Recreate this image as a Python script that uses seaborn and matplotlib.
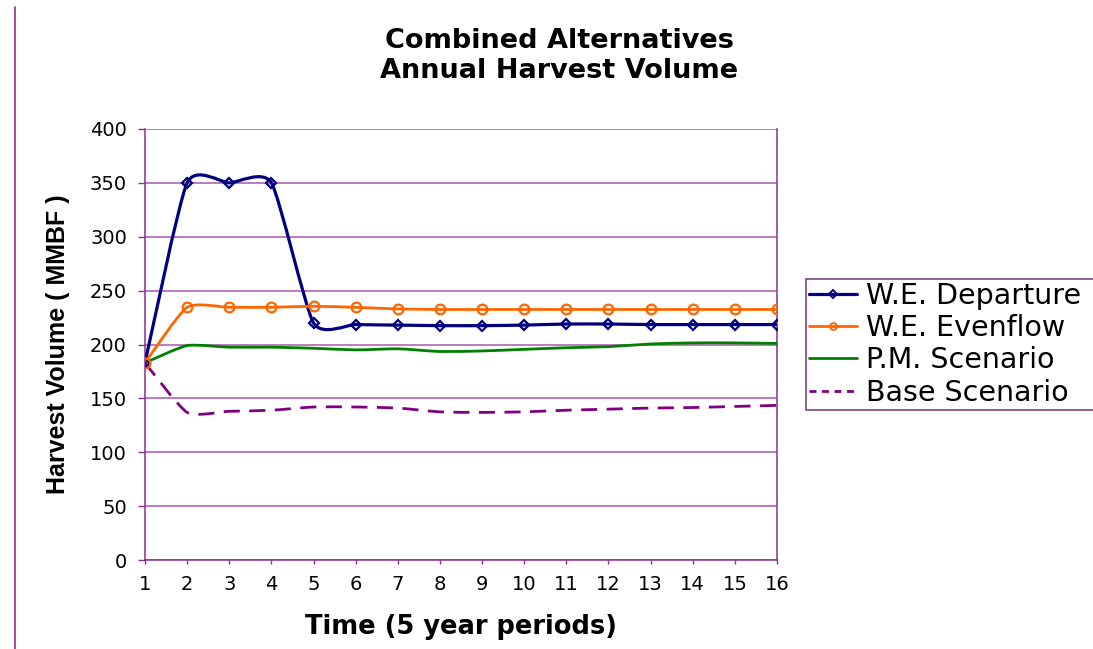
import numpy as np
import matplotlib
matplotlib.use('Agg')
import matplotlib.pyplot as plt
from matplotlib.path import Path
from matplotlib.patches import PathPatch
from matplotlib.lines import Line2D
import seaborn as sns

sns.set_style('white')
plt.rcParams['font.family'] = ['DejaVu Sans']
plt.rcParams['text.color'] = 'black'
plt.rcParams['axes.labelcolor'] = 'black'

# values
periods = list(range(1, 17))
we_departure = [183, 350, 350, 350, 220, 218.5, 218, 217.5, 217.5, 218, 219, 219, 218.5, 218.5, 218.5, 218.5]
we_evenflow = [183, 234.5, 234.5, 234.5, 235.5, 234.5, 233, 232.5, 232.5, 232.5, 232.5, 232.5, 232.5, 232.5, 232.5, 232.5]
pm_scenario = [183, 199, 197.5, 197.5, 196.5, 195, 196, 193.5, 194, 195.5, 197, 198, 200.5, 201.5, 201.5, 201]
base_scenario = [183, 137, 138, 139, 142, 142, 141, 137.5, 137, 137.5, 139, 140, 141, 141.5, 142.5, 143.5]
series_names = ['W.E. Departure', 'W.E. Evenflow', 'P.M. Scenario', 'Base Scenario']

navy = '#000080'
orange = '#FF6600'
green = '#008000'
purple = '#800080'
axis_col = '#8E2C92'
grid_col = '#A957AD'


# excel style smoothed line: cubic bezier through the points
def smooth_path(xs, ys, k=0.1):
    pts = np.column_stack([xs, ys]).astype(float)
    n = len(pts)
    verts = [pts[0]]
    codes = [Path.MOVETO]
    for i in range(n - 1):
        p0 = pts[i - 1] if i > 0 else pts[i]
        p1 = pts[i]
        p2 = pts[i + 1]
        p3 = pts[i + 2] if i + 2 < n else pts[i + 1]
        verts += [p1 + (p2 - p0) * k, p2 - (p3 - p1) * k, p2]
        codes += [Path.CURVE4] * 3
    return Path(verts, codes)


fig = plt.figure(figsize=(10.93, 6.49), dpi=100)
ax = fig.add_axes([145 / 1093, 1 - 560 / 649, 632 / 1093, 431 / 649])

styles = [
    (we_departure, navy, 2.3, '-', 'D', 5.5),
    (we_evenflow, orange, 2.0, '-', 'o', 7),
    (pm_scenario, green, 2.0, '-', None, 0),
    (base_scenario, purple, 2.0, (0, (5.8, 3.4)), None, 0),
]

handles = []
for (vals, col, lw, ls, mk, ms), name in zip(styles, series_names):
    ax.add_patch(PathPatch(smooth_path(periods, vals), fill=False, edgecolor=col,
                           lw=lw, linestyle=ls, zorder=3, capstyle='butt'))
    if mk:
        sns.lineplot(x=periods, y=vals, ax=ax, marker=mk, linestyle='', markersize=ms,
                     mfc='none', mec=col, mew=1.6, color=col, legend=False, zorder=4)
    handles.append(Line2D([], [], color=col, lw=lw, linestyle=ls if ls == '-' else (0, (2.5, 2)),
                          marker=mk, markersize=ms * 0.7, mfc='none', mec=col, mew=1.4))

ax.set_xlim(1, 16)
ax.set_ylim(0, 400)
ax.set_xticks(periods)
ax.set_yticks(range(0, 401, 50))
ax.grid(axis='y', color=grid_col, lw=1.1)
ax.set_axisbelow(True)
for side in ['left', 'bottom', 'right']:
    ax.spines[side].set_color(axis_col)
    ax.spines[side].set_linewidth(1.1)
ax.spines['top'].set_visible(False)
ax.tick_params(axis='y', direction='out', length=5, width=1, color=axis_col, pad=8,
               labelsize=14, labelcolor='black', left=True)
ax.tick_params(axis='x', direction='out', length=3, width=1, color=axis_col, pad=8,
               labelsize=14, labelcolor='black', bottom=True)
ax.set_xlabel('Time (5 year periods)', fontsize=18.5, fontweight='bold', labelpad=14)
ax.set_ylabel('Harvest Volume ( MMBF )', fontsize=18, fontweight='bold',
              family='Liberation Sans', labelpad=14)

fig.text(559 / 1093, 1 - 56 / 649, 'Combined Alternatives\nAnnual Harvest Volume',
         ha='center', va='center', fontsize=19.5, fontweight='bold', linespacing=1.15)

# legend box runs off the right edge of the picture
leg = fig.legend(handles, series_names, loc='upper left', mode='expand',
                 bbox_to_anchor=(806 / 1093, 1 - 279 / 649, 300 / 1093, 0), borderaxespad=0,
                 fontsize=20.5, frameon=True, fancybox=False, handlelength=1.7,
                 handletextpad=0.3, borderpad=0.1, labelspacing=0.15)
leg.get_frame().set_edgecolor('#5B1A60')
leg.get_frame().set_linewidth(1.2)

# page border on the left
fig.add_artist(Line2D([15 / 1093, 15 / 1093], [0, 1 - 7 / 649], color=axis_col, lw=1.2))

fig.savefig('out.png', dpi=100)
